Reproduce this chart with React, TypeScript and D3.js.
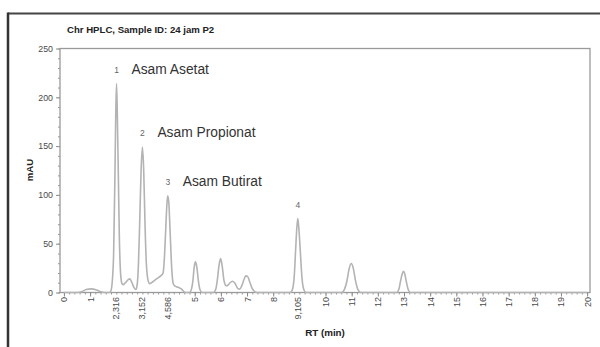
import React from 'react';
import { useRef, useEffect } from 'react';
import * as d3 from 'd3';

// retention time (min), as plotted on the axis
const rt = [
  0, 0.5, 0.7, 0.85, 1.06, 1.25, 1.44, 1.55,
  1.75, 1.8, 1.85, 1.9, 1.95, 1.98, 2.01, 2.04, 2.08, 2.12, 2.17, 2.22, 2.26,
  2.35, 2.45, 2.52, 2.6, 2.68, 2.75,
  2.8, 2.85, 2.9, 2.95, 3.0, 3.05, 3.1, 3.15, 3.22, 3.28, 3.4, 3.54, 3.7, 3.79,
  3.85, 3.9, 3.94, 3.97, 4.01, 4.06, 4.12, 4.18, 4.25, 4.4, 4.5, 4.58, 4.65,
  4.8, 4.88, 4.93, 4.98, 5.03, 5.08, 5.14, 5.2, 5.28,
  5.72, 5.8, 5.86, 5.93, 5.99, 6.05, 6.12, 6.2, 6.27, 6.35, 6.45, 6.55, 6.65, 6.72,
  6.8, 6.88, 6.95, 7.02, 7.1, 7.18, 7.27, 7.38,
  8.65, 8.72, 8.8, 8.86, 8.9, 8.94, 8.98, 9.03, 9.1, 9.17, 9.25,
  10.62, 10.72, 10.82, 10.9, 10.98, 11.06, 11.14, 11.24, 11.35,
  12.72, 12.8, 12.87, 12.93, 12.98, 13.03, 13.09, 13.16, 13.24,
  20,
];
// detector signal (mAU)
const mAU = [
  0, 0, 1, 3, 3.7, 2.5, 0.5, 0,
  0, 2, 12, 40, 120, 180, 214, 185, 120, 55, 18, 9, 8,
  10, 13, 14, 10, 5, 3,
  8, 30, 75, 125, 149, 125, 70, 30, 12, 9, 11, 14, 17, 20,
  40, 70, 92, 99, 92, 62, 25, 9, 6.5, 5, 3.5, 1, 0,
  0, 4, 12, 26, 31.4, 26, 12, 3, 0,
  0, 3, 12, 28, 34.8, 27, 12, 7, 7.5, 10, 11.5, 9, 4, 3.5,
  7, 13, 17, 16.5, 11, 5, 1.5, 0,
  0, 2, 15, 45, 65, 75.8, 66, 45, 15, 3, 0,
  0, 3, 12, 24, 29.7, 25, 13, 3, 0,
  0, 3, 12, 19, 21.8, 19, 11, 3, 0,
  0,
];

const peakNo = ['1', '2', '3', '4'];
const peakPos = [2.01, 3.0, 3.97, 8.94];
const peakTop = [214, 149, 99, 75.8];
const peakRtLabel = ['2,316', '3,152', '4,586', '9,105'];
const peakNames = ['Asam Asetat', 'Asam Propionat', 'Asam Butirat', ''];
const intTicks = [0, 1, 5, 6, 7, 8, 10, 11, 12, 13, 14, 15, 16, 17, 18, 19, 20];
const yTicks = [0, 50, 100, 150, 200, 250];

export default function App() {
  const svgRef = useRef(null);

  useEffect(() => {
    const w = 600;
    const h = 347;
    const svg = d3.select(svgRef.current).attr('width', w).attr('height', h);
    svg.selectAll('*').remove();

    const font = 'Liberation Sans, Arial, sans-serif';
    const x = d3.scaleLinear().domain([-0.15, 20.11]).range([60, 590]);
    const y = d3.scaleLinear().domain([0, 250]).range([292.5, 48.5]);

    // outer page frame
    svg.append('line').attr('x1', 8).attr('x2', 600).attr('y1', 13.5).attr('y2', 13.5)
      .attr('stroke', '#444').attr('stroke-width', 2);
    svg.append('line').attr('x1', 8).attr('x2', 8).attr('y1', 12.5).attr('y2', 347)
      .attr('stroke', '#333').attr('stroke-width', 2.5);

    // title
    svg.append('text').attr('x', 67).attr('y', 33).style('font-family', font)
      .style('font-size', '9.6px').style('font-weight', 'bold').attr('fill', '#222')
      .text('Chr HPLC, Sample ID: 24 jam P2');

    // plot box
    svg.append('rect').attr('x', 60).attr('y', 48.5).attr('width', 530).attr('height', 244)
      .attr('fill', 'none').attr('stroke', '#9a9a9a').attr('stroke-width', 1.3);

    // y axis
    const yAxis = d3.axisLeft(y).tickValues(yTicks).tickSize(4).tickPadding(3);
    const gy = svg.append('g').attr('transform', 'translate(60,0)').call(yAxis);
    gy.select('.domain').remove();
    gy.selectAll('line').attr('stroke', '#888');
    gy.selectAll('text').style('font-family', font).style('font-size', '8.8px').attr('fill', '#4a4a4a');
    const yMinor = d3.axisLeft(y).tickValues(d3.range(0, 251, 10)).tickSize(2).tickFormat(() => '');
    const gym = svg.append('g').attr('transform', 'translate(60,0)').call(yMinor);
    gym.select('.domain').remove();
    gym.selectAll('line').attr('stroke', '#999');

    // x axis
    const xMinor = d3.axisBottom(x).tickValues(d3.range(0, 100.5, 1).map((d) => d / 5)).tickSize(2).tickFormat(() => '');
    const gxm = svg.append('g').attr('transform', 'translate(0,292.5)').call(xMinor);
    gxm.select('.domain').remove();
    gxm.selectAll('line').attr('stroke', '#999');

    const xAxis = d3.axisBottom(x).tickValues(intTicks).tickSize(4).tickFormat(d3.format('d'));
    const gx = svg.append('g').attr('transform', 'translate(0,292.5)').call(xAxis);
    gx.select('.domain').remove();
    gx.selectAll('line').attr('stroke', '#888');
    gx.selectAll('text')
      .attr('transform', 'rotate(-90)').attr('x', -4.5).attr('y', 0).attr('dy', '0.33em')
      .style('text-anchor', 'end').style('font-family', font).style('font-size', '9px').attr('fill', '#4a4a4a');

    svg.append('g').selectAll('text').data(peakPos).join('text')
      .attr('transform', (d) => `translate(${x(d)},297) rotate(-90)`)
      .attr('dy', '0.33em').style('text-anchor', 'end')
      .style('font-family', font).style('font-size', '9px').attr('fill', '#4a4a4a')
      .text((d, i) => peakRtLabel[i]);

    // axis titles
    svg.append('text').attr('transform', 'translate(33,170) rotate(-90)').style('text-anchor', 'middle')
      .style('font-family', font).style('font-size', '9.6px').style('font-weight', 'bold').attr('fill', '#222')
      .text('mAU');
    svg.append('text').attr('x', 325).attr('y', 336).style('text-anchor', 'middle')
      .style('font-family', font).style('font-size', '9.8px').style('font-weight', 'bold').attr('fill', '#222')
      .text('RT (min)');

    // chromatogram trace
    const line = d3.line()
      .x((d, i) => x(rt[i]))
      .y((d) => y(d))
      .curve(d3.curveMonotoneX);
    svg.append('path').attr('d', line(mAU)).attr('fill', 'none')
      .attr('stroke', '#b3b3b3').attr('stroke-width', 1.6).attr('stroke-linejoin', 'round');

    // peak labels
    svg.append('g').selectAll('text').data(peakPos).join('text')
      .attr('x', (d) => x(d)).attr('y', (d, i) => y(peakTop[i]) - 11)
      .style('text-anchor', 'middle').style('font-family', font).style('font-size', '8.5px').attr('fill', '#666')
      .text((d, i) => peakNo[i]);
    svg.append('g').selectAll('text').data(peakPos).join('text')
      .attr('x', (d) => x(d) + 15).attr('y', (d, i) => y(peakTop[i]) - 10)
      .style('font-family', font).style('font-size', '13.8px').attr('fill', '#333')
      .text((d, i) => peakNames[i]);
  }, []);

  return (
    <div>
      <svg ref={svgRef} style={{ position: 'absolute', left: 0, top: 0, background: 'white' }}></svg>
    </div>
  );
}
